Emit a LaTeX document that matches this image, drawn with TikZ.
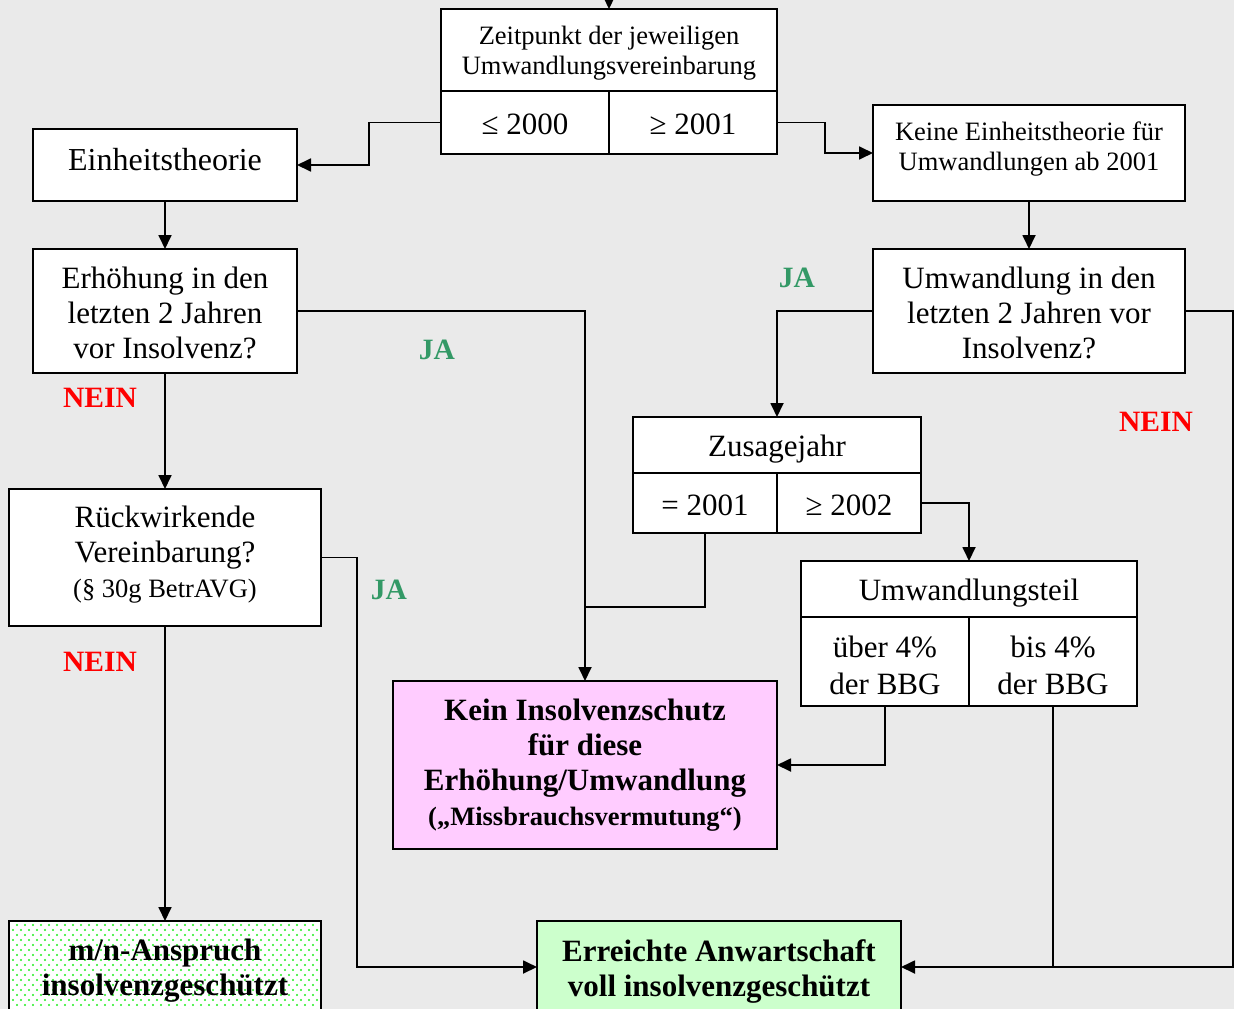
\documentclass[tikz,border=0pt]{standalone}
\usepackage{fontspec}
\setmainfont{Liberation Serif}
\usetikzlibrary{arrows.meta}
\definecolor{bgc}{HTML}{EAEAEA}
\definecolor{pinkc}{HTML}{FFCCFF}
\definecolor{greenc}{HTML}{CCFFCC}
\definecolor{jagreen}{HTML}{339966}
\definecolor{dotgreen}{HTML}{22EE22}
\newcommand\fmain{\fontsize{31}{35}\selectfont}
\newcommand\fsmall{\fontsize{26.5}{30}\selectfont}
\newcommand\flabel{\fontsize{29.5}{33}\selectfont\bfseries}
\newcommand\rtx[2]{\raisebox{#1}[\height][\depth]{\begin{tabular}{@{}c@{}}#2\end{tabular}}}
\tikzset{
  box/.style={draw, line width=1.8pt, fill=white, inner sep=0pt, outer sep=0pt, align=center, font=\fmain},
  conn/.style={line width=1.8pt},
  arr/.style={line width=1.8pt, -{Triangle[length=14pt,width=13pt]}},
  ja/.style={font=\flabel, text=jagreen},
  nein/.style={font=\flabel, text=red}
}
\begin{document}
\begin{tikzpicture}[x=1pt,y=-1pt]
\useasboundingbox (0,0) rectangle (1234,1009);
\clip (0,0) rectangle (1234,1009);
\fill[bgc] (0,0) rectangle (1234,1009);

% top split box
\node[box, minimum width=336pt, minimum height=82pt, font=\fsmall] (ztop) at (609,50) {\rtx{-3pt}{Zeitpunkt der jeweiligen\\Umwandlungsvereinbarung}};
\node[box, minimum width=168pt, minimum height=63pt] (zle) at (525,122.5) {\rtx{-5pt}{≤ 2000}};
\node[box, minimum width=168pt, minimum height=63pt] (zri) at (693,122.5) {\rtx{-5pt}{≥ 2001}};
\coordinate (topin) at (609,-12);

\node[box, minimum width=264pt, minimum height=72pt, font=\fontsize{32}{36}\selectfont] (einheit) at (165,165) {\rtx{2pt}{Einheitstheorie}};
\node[box, minimum width=312pt, minimum height=96pt, font=\fsmall] (keine) at (1029,153) {\rtx{3.5pt}{Keine Einheitstheorie für\\Umwandlungen ab 2001}};

\node[box, minimum width=264pt, minimum height=124pt] (erh) at (165,311) {\rtx{-5.5pt}{Erhöhung in den\\letzten 2 Jahren\\vor Insolvenz?}};
\node[box, minimum width=312pt, minimum height=124pt] (umw) at (1029,311) {\rtx{-5.5pt}{Umwandlung in den\\letzten 2 Jahren vor\\Insolvenz?}};

\node[box, minimum width=312pt, minimum height=137pt] (rueck) at (165,557.5) {\rtx{2.5pt}{Rückwirkende\\Vereinbarung?\\{\fsmall (§ 30g BetrAVG)}}};

% Zusagejahr split box
\node[box, minimum width=288pt, minimum height=56pt] (zus) at (777,445) {\rtx{-4pt}{Zusagejahr}};
\node[box, minimum width=144pt, minimum height=60pt] (zle2) at (705,503) {\rtx{-5pt}{= 2001}};
\node[box, minimum width=144pt, minimum height=60pt] (zri2) at (849,503) {\rtx{-5pt}{≥ 2002}};

% Umwandlungsteil split box
\node[box, minimum width=336pt, minimum height=56pt] (ut) at (969,589) {\rtx{-4pt}{Umwandlungsteil}};
\node[box, minimum width=168pt, minimum height=89pt, font=\fontsize{31}{37}\selectfont] (utl) at (885,661.5) {\rtx{-7pt}{über 4\%\\der BBG}};
\node[box, minimum width=168pt, minimum height=89pt, font=\fontsize{31}{37}\selectfont] (utr) at (1053,661.5) {\rtx{-7pt}{bis 4\%\\der BBG}};

% result boxes
\node[box, fill=pinkc, minimum width=384pt, minimum height=168pt, font=\fmain\bfseries] (kein) at (585,765) {Kein Insolvenzschutz\\für diese\\Erhöhung/Umwandlung\\{\fsmall\bfseries („Missbrauchsvermutung“)}};

\node[box, fill=greenc, minimum width=364pt, minimum height=100pt, font=\fmain\bfseries] (err) at (719,971) {Erreichte Anwartschaft\\voll insolvenzgeschützt};

% dotted m/n box
\fill[white] (9,921) rectangle (321,1021);
\foreach \yy [count=\i] in {925,930,...,1010} {
  \pgfmathsetmacro\off{mod(\i,2)*4}
  \foreach \xx in {13,21,...,317} {
    \fill[dotgreen] (\xx+\off,\yy) circle (1.1pt);
  }
}
\node[box, fill=none, minimum width=312pt, minimum height=100pt, font=\fmain\bfseries] (mn) at (165,971) {m/n-Anspruch\\insolvenzgeschützt};

% connectors
\coordinate (j1) at (585,607);
\coordinate (j2) at (1053,967);
\draw[arr] (topin) -- (ztop.north);
\draw[arr] (zle.west) -- (369,122.5) |- (einheit.east);
\draw[arr] (zri.east) -- (825,122.5) |- (keine.west);
\draw[arr] (einheit.south) -- (erh.north);
\draw[arr] (keine.south) -- (umw.north);
\draw[arr] (erh.east) -| (kein.north);
\draw[arr] (erh.south) -- (rueck.north);
\draw[arr] (rueck.east) -- (357,557.5) |- (err.west |- j2);
\draw[arr] (rueck.south) -- (mn.north);
\draw[arr] (umw.west) -| (zus.north);
\draw[arr] (umw.east) -- (1233,311) |- (err.east |- j2);
\draw[conn] (zle2.south) |- (j1);
\draw[arr] (zri2.east) -| (ut.north);
\draw[arr] (utl.south) |- (kein.east);
\draw[conn] (utr.south) -- (j2);

% labels
\node[ja] (ja1) at (437,350) {JA};
\node[ja] (ja2) at (389,590) {JA};
\node[ja] (ja3) at (797,278) {JA};
\node[nein] (n1) at (100,398) {NEIN};
\node[nein] (n2) at (100,662) {NEIN};
\node[nein] (n3) at (1156,422) {NEIN};
\end{tikzpicture}
\end{document}
